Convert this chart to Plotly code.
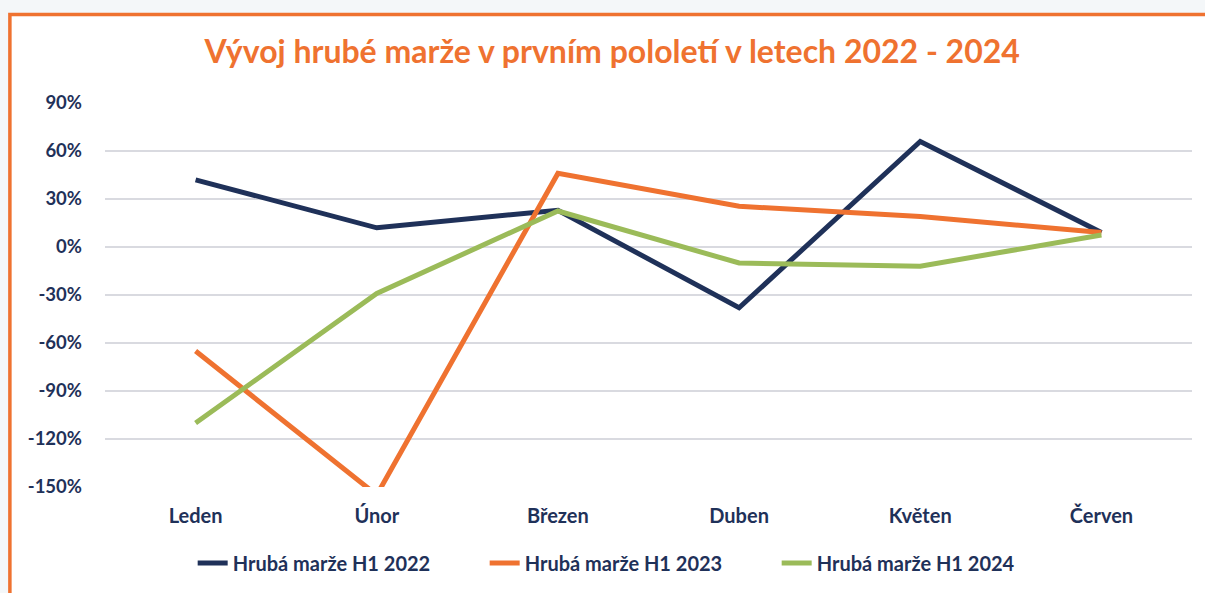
import plotly.graph_objects as go

months = ["Leden", "Únor", "Březen", "Duben", "Květen", "Červen"]
margin_2022 = [42, 12, 23, -38, 66, 9]
margin_2023 = [-65, -155, 46, 25.5, 19, 9]
margin_2024 = [-110, -29, 22.5, -10, -12, 7.5]
y_ticks = [90, 60, 30, 0, -30, -60, -90, -120, -150]
y_tick_labels = [f"{v}%" for v in y_ticks]

NAVY = "#1f3159"
ORANGE = "#ef7230"
GREEN = "#9bbb59"
FONT = "Lato"

fig = go.Figure()
for name, vals, col in [
    ("Hrubá marže H1 2022", margin_2022, NAVY),
    ("Hrubá marže H1 2023", margin_2023, ORANGE),
    ("Hrubá marže H1 2024", margin_2024, GREEN),
]:
    fig.add_trace(go.Scatter(x=months, y=vals, mode="lines", name=name,
                             line=dict(color=col, width=5), cliponaxis=True))

fig.update_layout(
    width=1205, height=593, autosize=False,
    margin=dict(l=105, r=13, t=103, b=106, autoexpand=False),
    paper_bgcolor="#f4f7f9",
    plot_bgcolor="rgba(0,0,0,0)",
    font=dict(family=FONT, color=NAVY, size=18),
    title=dict(text="<b>Vývoj hrubé marže v prvním pololetí v letech 2022 - 2024</b>",
               x=0.508, xanchor="center", y=1 - 52 / 593, yanchor="middle",
               font=dict(family=FONT, size=32, color=ORANGE)),
    showlegend=True,
    legend=dict(orientation="h", x=0.4836, xanchor="center",
                y=-0.198, yanchor="middle", entrywidth=247,
                font=dict(family=FONT, size=20, color=NAVY, weight="bold"),
                bgcolor="rgba(0,0,0,0)"),
    shapes=[dict(type="rect", xref="paper", yref="paper",
                 x0=-0.0875, x1=1.2, y0=-0.5, y1=1.2305,
                 fillcolor="white", line=dict(color=ORANGE, width=3.5), layer="below")],
)
fig.update_xaxes(type="category", range=[-0.5, 5.5], showgrid=False, zeroline=False,
                 showline=False, ticks="", ticklabelstandoff=15,
                 tickfont=dict(family=FONT, size=20, color=NAVY, weight="bold"))
fig.update_yaxes(range=[-150, 90], tickvals=y_ticks, ticktext=y_tick_labels,
                 showgrid=True, gridcolor="#d9dae0", gridwidth=2, zeroline=False,
                 showline=False, ticks="", ticklabelstandoff=22,
                 tickfont=dict(family=FONT, size=18.5, color=NAVY, weight="bold"))

fig.write_html("out.html", config={"displayModeBar": False},
               post_script="document.body.style.margin='0';")
